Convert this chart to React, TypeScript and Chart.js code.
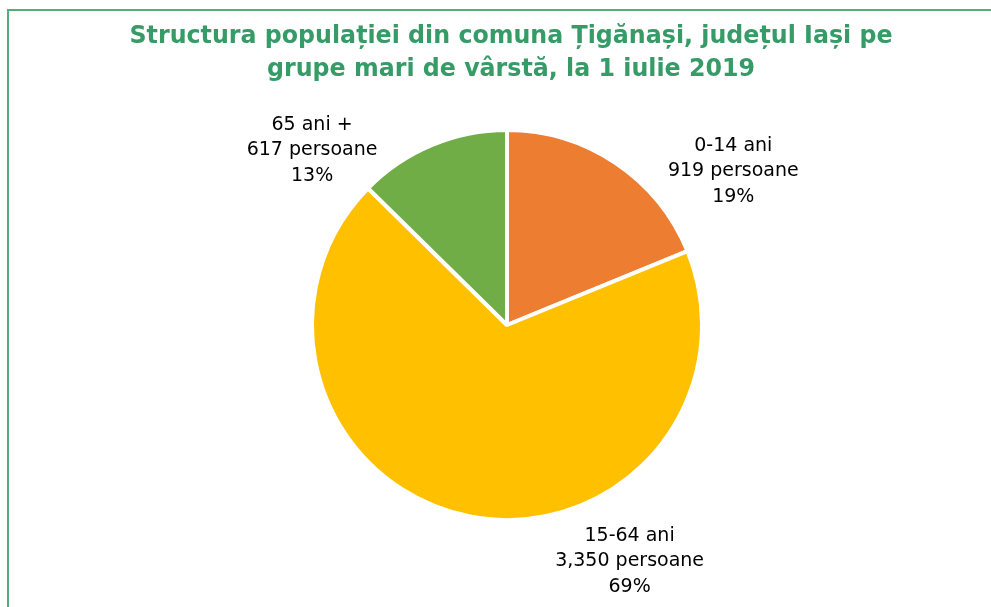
import React, { useEffect, useRef } from "react";
import { Chart, registerables } from "chart.js";

Chart.register(...registerables);

const TITLE_LINES = [
  "Structura populației din comuna Țigănași, județul Iași pe",
  "grupe mari de vârstă, la 1 iulie 2019",
];
const CATEGORIES = ["0-14 ani", "15-64 ani", "65 ani +"];
const VALUES = [919, 3350, 617];
const UNIT = "persoane";
const COLORS = ["#ED7D31", "#FFC000", "#70AD47"];

// label placement (layout only): angle from 12 o'clock clockwise, distance as factor of radius
const LABEL_LAYOUT = [
  { angle: 55.8, factor: 1.403 },
  { angle: 152.6, factor: 1.366 },
  { angle: 311.9, factor: 1.343 },
];

const W = 991;
const H = 607;

const framePlugin = {
  id: "frame",
  beforeDraw(chart: any) {
    const ctx = chart.ctx;
    ctx.save();
    ctx.fillStyle = "#ffffff";
    ctx.fillRect(0, 0, W, H);
    ctx.strokeStyle = "#55AC7D";
    ctx.lineWidth = 2;
    ctx.strokeRect(8, 10, W + 20, H + 20);
    // title
    ctx.fillStyle = "#369B67";
    ctx.font = "bold 25px 'DejaVu Sans'";
    ctx.textAlign = "center";
    ctx.textBaseline = "alphabetic";
    const targetW = 763;
    const w1 = ctx.measureText(TITLE_LINES[0]).width;
    const sx = targetW / w1;
    const cx = 511;
    const baselines = [42.5, 75.5];
    TITLE_LINES.forEach((line, i) => {
      ctx.save();
      ctx.translate(cx, baselines[i]);
      ctx.scale(sx, 1);
      ctx.fillText(line, 0, 0);
      ctx.restore();
    });
    ctx.restore();
  },
};

const labelPlugin = {
  id: "outLabels",
  afterDatasetsDraw(chart: any) {
    const ctx = chart.ctx;
    const meta = chart.getDatasetMeta(0);
    const total = VALUES.reduce((a, b) => a + b, 0);
    ctx.save();
    ctx.fillStyle = "#000000";
    ctx.font = "19px 'DejaVu Sans'";
    ctx.textAlign = "center";
    ctx.textBaseline = "middle";
    meta.data.forEach((arc: any, i: number) => {
      const { x, y, outerRadius } = arc.getProps(["x", "y", "outerRadius"], true);
      const lay = LABEL_LAYOUT[i];
      const a = (lay.angle * Math.PI) / 180;
      const d = outerRadius * lay.factor;
      const lx = x + Math.sin(a) * d;
      const ly = y - Math.cos(a) * d;
      const lines = [
        CATEGORIES[i],
        VALUES[i].toLocaleString("en-US") + " " + UNIT,
        Math.round((VALUES[i] / total) * 100) + "%",
      ];
      const lh = 25.5;
      lines.forEach((t, k) => {
        ctx.fillText(t, lx, ly + (k - 1) * lh);
      });
    });
    ctx.restore();
  },
};

export default function App() {
  const ref = useRef<HTMLCanvasElement | null>(null);
  useEffect(() => {
    if (!ref.current) return;
    const chart = new Chart(ref.current, {
      type: "pie",
      data: {
        labels: CATEGORIES,
        datasets: [
          {
            data: VALUES,
            backgroundColor: COLORS,
            borderColor: "#ffffff",
            borderWidth: 4,
          },
        ],
      },
      options: {
        responsive: false,
        animation: false,
        radius: 195,
        layout: { padding: { top: 132, bottom: 89, left: 200, right: 177 } },
        plugins: {
          legend: { display: false },
          title: { display: false },
          tooltip: { enabled: false },
        },
      } as any,
      plugins: [framePlugin, labelPlugin],
    });
    return () => chart.destroy();
  }, []);
  return (
    <div style={{ position: "absolute", left: 0, top: 0, width: W, height: H, background: "#fff" }}>
      <canvas ref={ref} width={W} height={H} style={{ display: "block", width: W, height: H }} />
    </div>
  );
}
